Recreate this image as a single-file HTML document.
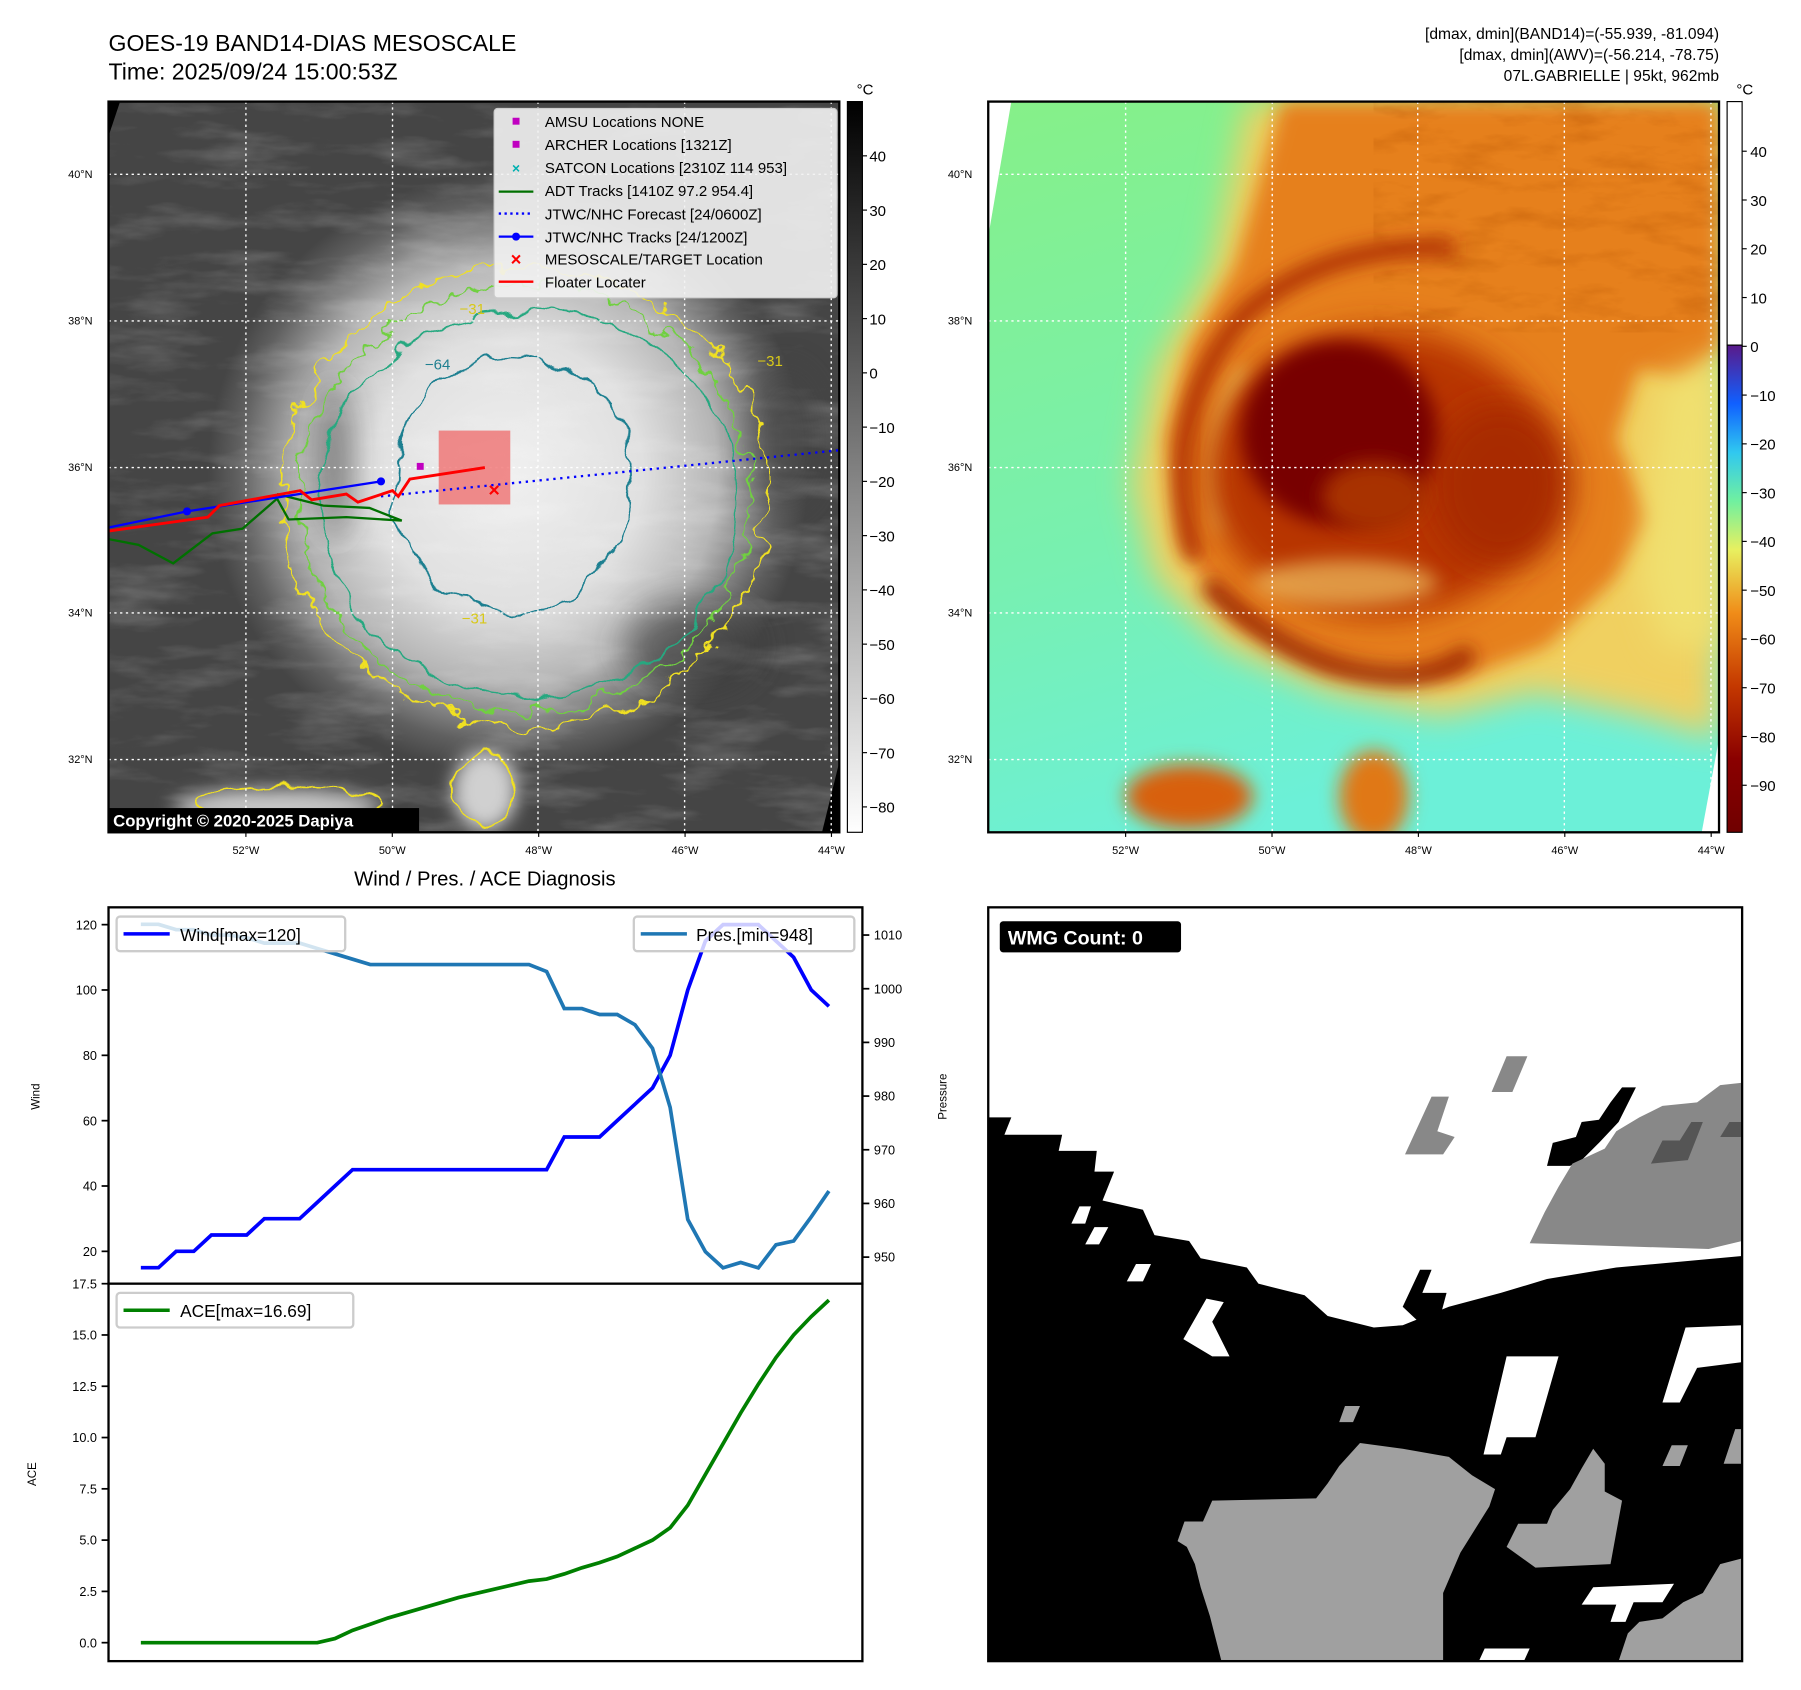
<!DOCTYPE html>
<html><head><meta charset="utf-8">
<style>
html,body{margin:0;padding:0;background:#fff;}
svg{display:block;font-family:"Liberation Sans","DejaVu Sans",sans-serif;}
</style></head>
<body>
<svg id="root" width="1801" height="1690" viewBox="0 0 1560 1464" preserveAspectRatio="none" xmlns="http://www.w3.org/2000/svg">
<defs>
  <filter id="wig" x="-20%" y="-20%" width="140%" height="140%">
    <feTurbulence type="fractalNoise" baseFrequency="0.045" numOctaves="3" seed="4" result="n"/>
    <feDisplacementMap in="SourceGraphic" in2="n" scale="28" xChannelSelector="R" yChannelSelector="G"/>
  </filter>
  <filter id="wig2" x="-20%" y="-20%" width="140%" height="140%">
    <feTurbulence type="fractalNoise" baseFrequency="0.03" numOctaves="3" seed="9" result="n"/>
    <feDisplacementMap in="SourceGraphic" in2="n" scale="22" xChannelSelector="R" yChannelSelector="G"/>
  </filter>
  <filter id="blur8" x="-50%" y="-50%" width="200%" height="200%"><feGaussianBlur stdDeviation="8"/></filter>
  <filter id="blur14" x="-50%" y="-50%" width="200%" height="200%"><feGaussianBlur stdDeviation="14"/></filter>
  <filter id="blur25" x="-50%" y="-50%" width="200%" height="200%"><feGaussianBlur stdDeviation="25"/></filter>
  <filter id="tex" x="0" y="0" width="100%" height="100%">
    <feTurbulence type="fractalNoise" baseFrequency="0.012 0.05" numOctaves="4" seed="3"/>
    <feColorMatrix type="matrix" values="0 0 0 0 1  0 0 0 0 1  0 0 0 0 1  1.2 0 0 0 -0.55"/>
  </filter>
  <filter id="texD" x="0" y="0" width="100%" height="100%">
    <feTurbulence type="fractalNoise" baseFrequency="0.02 0.06" numOctaves="4" seed="7"/>
    <feColorMatrix type="matrix" values="0 0 0 0 0.45  0 0 0 0 0.08  0 0 0 0 0  1.3 0 0 0 -0.6"/>
  </filter>
  <radialGradient id="irg" cx="440" cy="410" r="260" gradientUnits="userSpaceOnUse">
    <stop offset="0" stop-color="#f0f0f0"/>
    <stop offset="0.45" stop-color="#e0e0e0"/>
    <stop offset="0.7" stop-color="#b5b5b5"/>
    <stop offset="0.9" stop-color="#606060"/>
    <stop offset="1" stop-color="#454545"/>
  </radialGradient>
  <linearGradient id="cbL" x1="0" y1="0" x2="0" y2="1">
    <stop offset="0" stop-color="#000"/><stop offset="1" stop-color="#fff"/>
  </linearGradient>
  <linearGradient id="cbR" x1="0" y1="299" x2="0" y2="721" gradientUnits="userSpaceOnUse">
    <stop offset="0" stop-color="#5a1a8a"/>
    <stop offset="0.12" stop-color="#1060ff"/>
    <stop offset="0.22" stop-color="#30c8f0"/>
    <stop offset="0.32" stop-color="#70f0a0"/>
    <stop offset="0.42" stop-color="#e8f060"/>
    <stop offset="0.55" stop-color="#f08c18"/>
    <stop offset="0.7" stop-color="#c43800"/>
    <stop offset="0.85" stop-color="#8a0000"/>
    <stop offset="1" stop-color="#700000"/>
  </linearGradient>
  <linearGradient id="awvBase" x1="0" y1="0" x2="0.3" y2="1">
    <stop offset="0" stop-color="#86f088"/>
    <stop offset="0.6" stop-color="#78f0b0"/>
    <stop offset="1" stop-color="#6cf0d8"/>
  </linearGradient>
  <clipPath id="clipL"><rect x="94" y="88" width="633" height="633"/></clipPath>
  <clipPath id="clipR"><rect x="856" y="88" width="633" height="633"/></clipPath>
</defs>

<!-- titles -->
<text x="94" y="44" font-size="20">GOES-19 BAND14-DIAS MESOSCALE</text>
<text x="94" y="69" font-size="20">Time: 2025/09/24 15:00:53Z</text>
<g font-size="13.5" text-anchor="end">
<text x="1489" y="34">[dmax, dmin](BAND14)=(-55.939, -81.094)</text>
<text x="1489" y="52">[dmax, dmin](AWV)=(-56.214, -78.75)</text>
<text x="1489" y="70">07L.GABRIELLE | 95kt, 962mb</text>
</g>

<!-- ===== top-left IR map ===== -->
<g clip-path="url(#clipL)">
  <rect x="94" y="88" width="633" height="633" fill="url(#irg)"/>
  <rect x="94" y="88" width="633" height="633" filter="url(#tex)" opacity="0.35"/>
  <g filter="url(#blur14)" opacity="0.6">
    <ellipse cx="290" cy="400" rx="12" ry="70" fill="#333"/>
    <ellipse cx="680" cy="380" rx="30" ry="60" fill="#444"/>
    <ellipse cx="600" cy="560" rx="60" ry="40" fill="#3a3a3a"/>
  </g>
  <ellipse cx="420" cy="685" rx="28" ry="35" fill="#d0d0d0" filter="url(#blur8)"/>
  <ellipse cx="240" cy="700" rx="90" ry="16" fill="#c8c8c8" filter="url(#blur8)"/>
  <polygon points="94,88 104,88 94,118" fill="#000"/>
  <polygon points="727,660 727,721 712,721" fill="#000"/>
  <g fill="none" stroke-width="1.6">
    <ellipse cx="455" cy="430" rx="210" ry="200" stroke="#f0e020" filter="url(#wig)"/>
    <ellipse cx="455" cy="432" rx="195" ry="185" stroke="#70d040" filter="url(#wig)"/>
    <ellipse cx="458" cy="435" rx="182" ry="168" stroke="#28a880" filter="url(#wig2)"/>
    <ellipse cx="445" cy="420" rx="105" ry="110" stroke="#1f7f90" filter="url(#wig2)"/>
    <ellipse cx="420" cy="685" rx="26" ry="32" stroke="#f0e020" filter="url(#wig2)"/>
    <ellipse cx="250" cy="695" rx="80" ry="14" stroke="#f0e020" filter="url(#wig2)"/>
  </g>
  <g font-size="13">
    <text x="368" y="320" fill="#1f7f90">−64</text>
    <text x="656" y="317" fill="#d8c818">−31</text>
    <text x="398" y="272" fill="#d8c818">−31</text>
    <text x="400" y="540" fill="#d8c818">−31</text>
  </g>
  <g stroke="#fff" stroke-width="1.2" stroke-dasharray="2,3">
    <line x1="213" y1="88" x2="213" y2="721"/><line x1="340" y1="88" x2="340" y2="721"/>
    <line x1="466" y1="88" x2="466" y2="721"/><line x1="593" y1="88" x2="593" y2="721"/>
    <line x1="720" y1="88" x2="720" y2="721"/>
    <line x1="94" y1="151" x2="727" y2="151"/><line x1="94" y1="278" x2="727" y2="278"/>
    <line x1="94" y1="405" x2="727" y2="405"/><line x1="94" y1="531" x2="727" y2="531"/>
    <line x1="94" y1="658" x2="727" y2="658"/>
  </g>
  <rect x="380" y="373" width="62" height="64" fill="#f06060" opacity="0.7"/>
  <polyline points="94,467 120,472 150,488 184,462 210,458 240,432 250,450 300,448 348,451 320,440 280,438 240,428" fill="none" stroke="#007000" stroke-width="2"/>
  <polyline points="330,430 727,390" fill="none" stroke="#0000ff" stroke-width="2" stroke-dasharray="2,4"/>
  <polyline points="94,457 162,443 330,417" fill="none" stroke="#0000ff" stroke-width="2"/>
  <circle cx="162" cy="443" r="3.5" fill="#0000ff"/><circle cx="330" cy="417" r="3.5" fill="#0000ff"/>
  <polyline points="94,460 180,448 190,438 260,425 270,433 300,428 310,435 340,425 345,430 355,415 420,405" fill="none" stroke="#ff0000" stroke-width="2.5"/>
  <rect x="361" y="401" width="6" height="6" fill="#c000c0"/>
  <text x="428" y="430" font-size="17" font-weight="bold" fill="#ff0000" text-anchor="middle">×</text>
</g>
<rect x="94" y="88" width="633" height="633" fill="none" stroke="#000" stroke-width="2"/>

<g>
  <rect x="428" y="94" width="297" height="164" rx="3" fill="#f2f2f2" fill-opacity="0.9" stroke="#ccc"/>
  <g font-size="13">
    <rect x="444" y="102" width="6" height="6" fill="#c000c0"/><text x="472" y="110">AMSU Locations NONE</text>
    <rect x="444" y="122" width="6" height="6" fill="#c000c0"/><text x="472" y="130">ARCHER Locations [1321Z]</text>
    <text x="447" y="150" fill="#00b0b0" font-size="12" font-weight="bold" text-anchor="middle">×</text><text x="472" y="150">SATCON Locations [2310Z 114 953]</text>
    <line x1="432" y1="166" x2="462" y2="166" stroke="#007000" stroke-width="2"/><text x="472" y="170">ADT Tracks [1410Z 97.2 954.4]</text>
    <line x1="432" y1="185" x2="462" y2="185" stroke="#0000ff" stroke-width="2" stroke-dasharray="2,3"/><text x="472" y="190">JTWC/NHC Forecast [24/0600Z]</text>
    <line x1="432" y1="205" x2="462" y2="205" stroke="#0000ff" stroke-width="2"/><circle cx="447" cy="205" r="3.5" fill="#0000ff"/><text x="472" y="210">JTWC/NHC Tracks [24/1200Z]</text>
    <text x="447" y="230" fill="#ff0000" font-size="16" font-weight="bold" text-anchor="middle">×</text><text x="472" y="229">MESOSCALE/TARGET Location</text>
    <line x1="432" y1="244" x2="462" y2="244" stroke="#ff0000" stroke-width="2"/><text x="472" y="249">Floater Locater</text>
  </g>
</g>
<rect x="94" y="700" width="269" height="21" fill="#000"/>
<text x="98" y="716" font-size="14.5" font-weight="bold" fill="#fff">Copyright © 2020-2025 Dapiya</text>

<rect x="734" y="88" width="13" height="633" fill="url(#cbL)" stroke="#000" stroke-width="1"/>
<text x="742" y="82" font-size="13">°C</text>
<g id="cbLticks" font-size="13"></g>

<!-- ===== top-right AWV map ===== -->
<g clip-path="url(#clipR)">
  <rect x="856" y="88" width="633" height="633" fill="url(#awvBase)"/>
  <!-- outer yellow halo -->
  <polygon points="1080,88 1489,88 1489,640 1420,620 1330,600 1250,620 1150,600 1060,560 1000,500 980,420 1000,320 1050,230" fill="#f0d060" filter="url(#blur14)"/>
  <!-- orange shield -->
  <polygon points="1110,88 1489,88 1489,300 1460,330 1420,320 1400,380 1430,450 1400,500 1340,560 1260,590 1150,580 1070,540 1020,470 1010,380 1030,300 1070,230" fill="#e6801e" filter="url(#blur8)"/>
  <polygon points="1440,330 1489,310 1489,560 1440,560 1420,500" fill="#f0e070" filter="url(#blur14)"/>
  <rect x="1190" y="88" width="299" height="200" filter="url(#texD)" opacity="0.6"/>
  <!-- outer rain band -->
  <path d="M1035,485 Q1000,360 1080,270 Q1150,210 1260,215" fill="none" stroke="#a82800" stroke-width="14" filter="url(#blur8)"/>
  <path d="M1045,505 Q1120,580 1200,585 Q1240,590 1275,565" fill="none" stroke="#9a2000" stroke-width="16" filter="url(#blur8)"/>
  <path d="M1060,460 Q1040,370 1080,320" fill="none" stroke="#f0e070" stroke-width="9" filter="url(#blur8)"/>
  <!-- inner core region -->
  <ellipse cx="1195" cy="410" rx="150" ry="125" fill="#b83600" filter="url(#blur14)"/>
  <ellipse cx="1300" cy="420" rx="60" ry="70" fill="#a82a00" filter="url(#blur14)"/>
  <ellipse cx="1160" cy="375" rx="85" ry="80" fill="#780000" filter="url(#blur8)"/>
  <ellipse cx="1190" cy="430" rx="45" ry="30" fill="#a83000" filter="url(#blur8)"/>
  <ellipse cx="1165" cy="505" rx="80" ry="20" fill="#f0c060" opacity="0.7" filter="url(#blur8)"/>
  <ellipse cx="1030" cy="690" rx="55" ry="28" fill="#d86010" filter="url(#blur8)"/>
  <ellipse cx="1190" cy="690" rx="30" ry="40" fill="#e07818" filter="url(#blur8)"/>
  <polygon points="856,88 876,88 856,205" fill="#fff"/>
  <polygon points="1489,640 1489,721 1474,721" fill="#fff"/>
  <g stroke="#fff" stroke-width="1.2" stroke-dasharray="2,3">
    <line x1="975" y1="88" x2="975" y2="721"/><line x1="1102" y1="88" x2="1102" y2="721"/>
    <line x1="1228" y1="88" x2="1228" y2="721"/><line x1="1355" y1="88" x2="1355" y2="721"/>
    <line x1="1482" y1="88" x2="1482" y2="721"/>
    <line x1="856" y1="151" x2="1489" y2="151"/><line x1="856" y1="278" x2="1489" y2="278"/>
    <line x1="856" y1="405" x2="1489" y2="405"/><line x1="856" y1="531" x2="1489" y2="531"/>
    <line x1="856" y1="658" x2="1489" y2="658"/>
  </g>
</g>
<rect x="856" y="88" width="633" height="633" fill="none" stroke="#000" stroke-width="2"/>
<rect x="1496" y="88" width="13" height="211" fill="#fff" stroke="#000" stroke-width="1"/>
<rect x="1496" y="299" width="13" height="422" fill="url(#cbR)" stroke="#000" stroke-width="1"/>
<text x="1504" y="82" font-size="13">°C</text>
<g id="cbRticks" font-size="13"></g>

<g id="mapTicks" font-size="9.5"></g>

<!-- ===== bottom-left diagnosis chart ===== -->
<text x="420" y="767" font-size="17.5" text-anchor="middle">Wind / Pres. / ACE Diagnosis</text>
<rect x="94" y="786" width="653" height="326" fill="#fff" stroke="#000" stroke-width="2"/>
<rect x="94" y="1112" width="653" height="327" fill="#fff" stroke="#000" stroke-width="2"/>
<text transform="translate(34,950) rotate(-90)" font-size="10" text-anchor="middle">Wind</text>
<text transform="translate(820,950) rotate(-90)" font-size="10" text-anchor="middle">Pressure</text>
<text transform="translate(31,1277) rotate(-90)" font-size="10" text-anchor="middle">ACE</text>
<g id="chart"></g>
<g>
  <rect x="101" y="794" width="198" height="30" rx="3" fill="#fff" fill-opacity="0.8" stroke="#ccc" stroke-width="2"/>
  <line x1="107" y1="809" x2="147" y2="809" stroke="#0000ff" stroke-width="3"/>
  <text x="156" y="815" font-size="15">Wind[max=120]</text>
</g>
<g>
  <rect x="549" y="794" width="191" height="30" rx="3" fill="#fff" fill-opacity="0.8" stroke="#ccc" stroke-width="2"/>
  <line x1="555" y1="809" x2="595" y2="809" stroke="#1f77b4" stroke-width="3"/>
  <text x="603" y="815" font-size="15">Pres.[min=948]</text>
</g>
<g>
  <rect x="101" y="1120" width="205" height="30" rx="3" fill="#fff" fill-opacity="0.8" stroke="#ccc" stroke-width="2"/>
  <line x1="107" y1="1135" x2="147" y2="1135" stroke="#008000" stroke-width="3"/>
  <text x="156" y="1141" font-size="15">ACE[max=16.69]</text>
</g>

<!-- ===== bottom-right WMG ===== -->
<g>
  <rect x="856" y="786" width="653" height="653" fill="#fff"/>
  <polygon points="856,968 876,968 870,983 920,983 917,997 950,997 948,1015 965,1015 955,1040 990,1048 1000,1070 1030,1075 1040,1090 1080,1098 1090,1112 1130,1122 1150,1140 1190,1150 1215,1148 1235,1140 1255,1132 1300,1120 1340,1108 1400,1098 1509,1088 1509,1439 856,1439" fill="#000"/>
  <polygon points="1340,1010 1345,990 1365,985 1370,972 1385,970 1395,955 1405,942 1417,942 1402,972 1385,990 1370,1005 1360,1010" fill="#000"/>
  <polygon points="1325,1077 1338,1050 1350,1028 1362,1008 1390,995 1400,980 1420,968 1440,958 1470,955 1490,940 1509,938 1509,1075 1480,1082" fill="#888"/>
  <polygon points="1430,1008 1440,988 1455,988 1465,972 1475,972 1462,1005" fill="#555"/>
  <polygon points="1490,985 1498,972 1509,972 1509,985" fill="#555"/>
  <polygon points="1217,1000 1240,950 1255,950 1245,980 1260,985 1250,1000" fill="#888"/>
  <polygon points="1292,946 1305,915 1323,915 1310,946" fill="#888"/>
  <polygon points="1215,1132 1230,1100 1240,1100 1232,1120 1253,1120 1245,1150 1232,1148" fill="#000"/>
  <polygon points="1025,1160 1045,1125 1060,1128 1050,1145 1065,1175 1050,1175" fill="#fff"/>
  <polygon points="928,1060 935,1045 945,1045 940,1060" fill="#fff"/>
  <polygon points="940,1078 948,1063 960,1063 952,1078" fill="#fff"/>
  <polygon points="976,1110 984,1095 997,1095 990,1110" fill="#fff"/>
  <polygon points="1285,1260 1305,1175 1350,1175 1330,1245 1305,1245 1300,1260" fill="#fff"/>
  <polygon points="1440,1215 1460,1150 1509,1148 1509,1180 1470,1185 1455,1215" fill="#fff"/>
  <polygon points="1370,1390 1380,1375 1450,1372 1440,1388 1415,1388 1408,1405 1395,1405 1400,1390" fill="#fff"/>
  <polygon points="1281,1439 1286,1428 1325,1428 1320,1439" fill="#fff"/>
  <polygon points="1160,1232 1165,1218 1178,1218 1172,1232" fill="#a0a0a0"/>
  <polygon points="1440,1270 1448,1252 1462,1252 1455,1270" fill="#a0a0a0"/>
  <polygon points="1493,1268 1503,1238 1509,1238 1509,1268" fill="#a0a0a0"/>
  <polygon points="1058,1439 1048,1400 1040,1375 1035,1355 1028,1340 1020,1335 1026,1318 1042,1318 1050,1300 1140,1298 1150,1285 1160,1270 1178,1250 1215,1255 1255,1262 1275,1278 1295,1290 1290,1305 1265,1345 1250,1380 1250,1439" fill="#a0a0a0"/>
  <polygon points="1305,1340 1315,1320 1340,1320 1345,1308 1360,1290 1370,1272 1380,1255 1390,1268 1390,1292 1405,1300 1395,1355 1330,1358" fill="#a0a0a0"/>
  <polygon points="1402,1439 1410,1415 1420,1405 1440,1402 1458,1388 1475,1380 1490,1355 1509,1350 1509,1439" fill="#a0a0a0"/>
  <rect x="856" y="786" width="653" height="653" fill="none" stroke="#000" stroke-width="2"/>
  <rect x="866" y="798" width="157" height="27" rx="3" fill="#000"/>
  <text x="873" y="818" font-size="17" font-weight="bold" fill="#fff">WMG Count: 0</text>
</g>

<script>
const windValues = [15,15,20,20,25,25,25,30,30,30,35,40,45,45,45,45,45,45,45,45,45,45,45,45,55,55,55,60,65,70,80,100,115,120,120,120,115,110,100,95];
const presValues = [1012,1012,1011,1011,1010,1010,1009.5,1008.5,1008.5,1008.5,1007.5,1006.5,1005.5,1004.5,1004.5,1004.5,1004.5,1004.5,1004.5,1004.5,1004.5,1004.5,1004.5,1003.2,996.3,996.3,995.2,995.2,993.3,988.9,977.9,957,951,948,949,948,952.3,953,957.5,962.3];
const aceValues = [0,0,0,0,0,0,0,0,0,0,0,0.2,0.6,0.9,1.2,1.45,1.7,1.95,2.2,2.4,2.6,2.8,3.0,3.1,3.35,3.65,3.9,4.2,4.6,5.0,5.6,6.7,8.2,9.7,11.2,12.6,13.9,15.0,15.9,16.7];
const windTicks = [20,40,60,80,100,120];
const presTicks = [950,960,970,980,990,1000,1010];
const aceTicks = [0,2.5,5,7.5,10,12.5,15,17.5];
const irCbTicks = [40,30,20,10,0,-10,-20,-30,-40,-50,-60,-70,-80];
const awvCbTicks = [40,30,20,10,0,-10,-20,-30,-40,-50,-60,-70,-80,-90];
const latLabels = ["40°N","38°N","36°N","34°N","32°N"];
const lonLabels = ["52°W","50°W","48°W","46°W","44°W"];

const NS="http://www.w3.org/2000/svg";
function mk(tag, attrs, parent){const e=document.createElementNS(NS,tag);for(const k in attrs)e.setAttribute(k,attrs[k]);parent.appendChild(e);return e;}
const xS = i => 122 + i*(718-122)/(windValues.length-1);
const yWind = v => 1084 - (v-20)*2.83;
const yPres = v => 1089 - (v-950)*4.65;
const yAce = v => 1423 - v*17.77;
const chart=document.getElementById('chart');

windTicks.forEach(t=>{const y=yWind(t);
  const l=mk('line',{x1:88,x2:94,y1:y,y2:y,stroke:'#000','stroke-width':1.5},chart);
  
  
  const tx=mk('text',{x:84,y:y+4,'font-size':11,'text-anchor':'end'},chart);tx.textContent=t;
  
  });
presTicks.forEach(t=>{const y=yPres(t);
  mk('line',{x1:747,x2:753,y1:y,y2:y,stroke:'#000','stroke-width':1.5},chart);
  const tx=mk('text',{x:757,y:y+4,'font-size':11},chart);tx.textContent=t;
  
  });
aceTicks.forEach(t=>{const y=yAce(t);
  mk('line',{x1:88,x2:94,y1:y,y2:y,stroke:'#000','stroke-width':1.5},chart);
  const tx=mk('text',{x:84,y:y+4,'font-size':11,'text-anchor':'end'},chart);tx.textContent=t.toFixed(1);
  
  });

const pW=mk('polyline',{points:windValues.map((v,i)=>xS(i)+','+yWind(v)).join(' '),fill:'none',stroke:'#0000ff','stroke-width':3.2},chart);


const pP=mk('polyline',{points:presValues.map((v,i)=>xS(i)+','+yPres(v)).join(' '),fill:'none',stroke:'#1f77b4','stroke-width':3.2},chart);


const pA=mk('polyline',{points:aceValues.map((v,i)=>xS(i)+','+yAce(v)).join(' '),fill:'none',stroke:'#008000','stroke-width':3.2},chart);



const cbL=document.getElementById('cbLticks');
irCbTicks.forEach(t=>{const y=135+(40-t)*4.7;
  mk('line',{x1:747,x2:751,y1:y,y2:y,stroke:'#000'},cbL);
  const tx=mk('text',{x:753,y:y+5},cbL);tx.textContent=t<0?'\u2212'+(-t):t;
  
  });
const cbR=document.getElementById('cbRticks');
awvCbTicks.forEach(t=>{const y=131+(40-t)*4.225;
  mk('line',{x1:1509,x2:1513,y1:y,y2:y,stroke:'#000'},cbR);
  const tx=mk('text',{x:1516,y:y+5},cbR);tx.textContent=t<0?'\u2212'+(-t):t;
  
  });

const mt=document.getElementById('mapTicks');
const latY=[151,278,405,531,658];
[[94,213],[856,975]].forEach(([left,lon0])=>{
  latLabels.forEach((s,i)=>{const t=mk('text',{x:left-35,y:latY[i]+3},mt);t.textContent=s;
    
    });
  lonLabels.forEach((s,i)=>{const x=lon0+i*126.8;
    mk('line',{x1:x,x2:x,y1:721,y2:725,stroke:'#000'},mt);
    const t=mk('text',{x:x,y:740,'text-anchor':'middle'},mt);t.textContent=s;
    
    });
});
</script>
</svg>
</body></html>
